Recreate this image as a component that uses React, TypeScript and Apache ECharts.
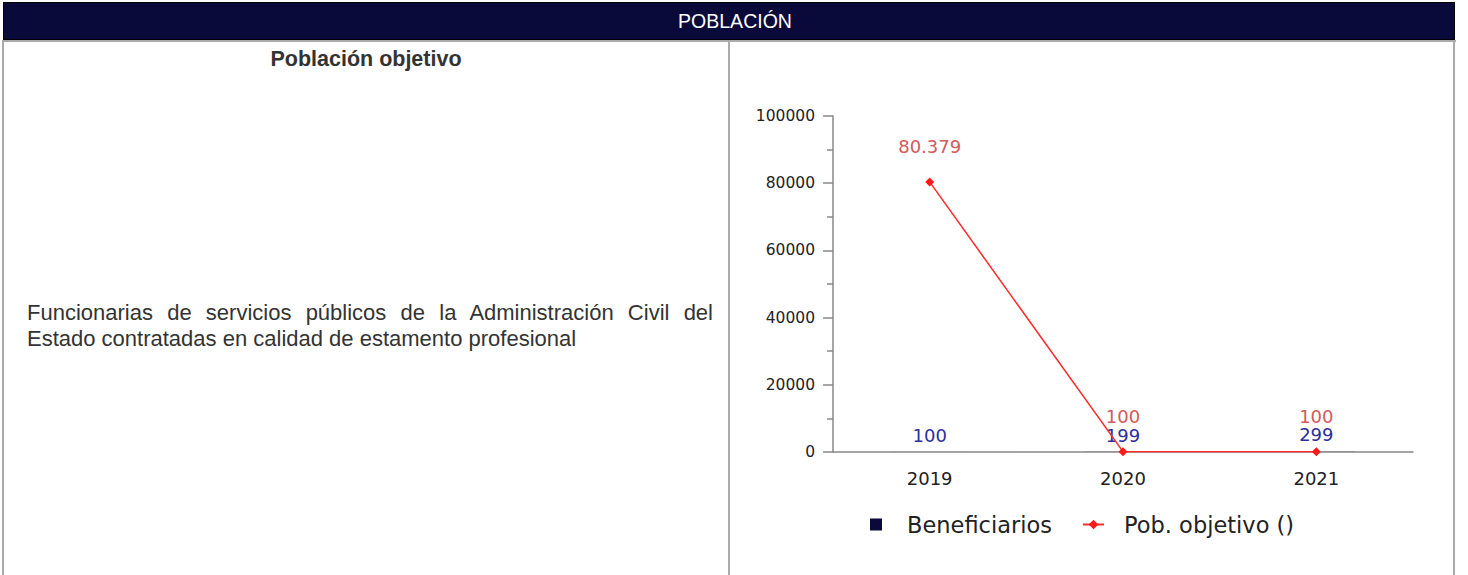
import React, { useEffect, useRef } from "react";
import * as echarts from "echarts";

const categories = ["2019", "2020", "2021"];
const beneficiarios = [100, 199, 299];
const poblacionObjetivo = [80379, 100, 100];
const yMin = 0;
const yMax = 100000;
const yInterval = 20000;
const seriesNames = ["Beneficiarios", "Pob. objetivo ()"];
const headerTitle = "POBLACIÓN";
const leftTitle = "Población objetivo";
const leftText =
  "Funcionarias de servicios públicos de la Administración Civil del Estado contratadas en calidad de estamento profesional";

const fmtEs = (v: number) =>
  String(Math.round(v)).replace(/\B(?=(\d{3})+(?!\d))/g, ".");

const FONT = "'DejaVu Sans', Verdana, sans-serif";

export default function App() {
  const ref = useRef<HTMLDivElement>(null);

  useEffect(() => {
    if (!ref.current) return;
    const chart = echarts.init(ref.current, undefined, { renderer: "svg" });
    chart.setOption({
      animation: false,
      grid: { left: 833, top: 116, width: 580, height: 336, containLabel: false },
      legend: [
        {
          data: [{ name: seriesNames[0], itemStyle: { color: "#0a0a3a", opacity: 1 } }],
          left: 870,
          top: 513,
          padding: 0,
          itemWidth: 12,
          itemHeight: 12,
          icon: "rect",
          textStyle: { fontFamily: FONT, fontSize: 22.5, color: "#222", padding: [0, 0, 0, 20] },
        },
        {
          data: [seriesNames[1]],
          left: 1082,
          top: 513,
          padding: 0,
          itemWidth: 21,
          itemHeight: 12,
          textStyle: { fontFamily: FONT, fontSize: 22.5, color: "#222", padding: [0, 0, 0, 15] },
        },
      ],
      xAxis: {
        type: "category",
        data: categories,
        boundaryGap: true,
        axisLine: { show: true, lineStyle: { color: "#888", width: 1.5 } },
        axisTick: { show: false },
        axisLabel: { fontFamily: FONT, fontSize: 18, color: "#222", margin: 17 },
        splitLine: { show: false },
      },
      yAxis: {
        type: "value",
        min: yMin,
        max: yMax,
        interval: yInterval,
        axisLine: { show: true, lineStyle: { color: "#888", width: 1.5 } },
        axisTick: { show: true, length: 10, lineStyle: { color: "#888", width: 1.5 } },
        minorTick: { show: true, splitNumber: 2, length: 6, lineStyle: { color: "#888", width: 1.5 } },
        axisLabel: {
          fontFamily: FONT,
          fontSize: 15.5,
          color: "#222",
          margin: 18,
          formatter: (v: number) => String(v),
        },
        splitLine: { show: false },
      },
      series: [
        {
          name: seriesNames[0],
          type: "bar",
          data: beneficiarios,
          barWidth: "40%",
          itemStyle: { color: "#0a0a3a", opacity: 0.12 },
          label: {
            show: true,
            position: "top",
            distance: 7,
            fontFamily: FONT,
            fontSize: 18,
            lineHeight: 18,
            color: "#2e2e9c",
            opacity: 1,
          },
          z: 2,
        },
        {
          name: seriesNames[1],
          type: "line",
          data: poblacionObjetivo,
          symbol: "diamond",
          symbolSize: 9,
          lineStyle: { color: "#ff2a2a", width: 1.5 },
          itemStyle: { color: "#ff1a1a" },
          label: {
            show: true,
            position: "top",
            distance: 22,
            fontFamily: FONT,
            fontSize: 18,
            lineHeight: 18,
            color: "#d25a5a",
            formatter: (p: any) => fmtEs(p.value),
          },
          z: 3,
        },
      ],
    });
    return () => chart.dispose();
  }, []);

  const grey = "#aaaaaa";
  return (
    <div
      style={{
        position: "fixed",
        left: 0,
        top: 0,
        width: 1468,
        height: 575,
        background: "#fff",
        overflow: "hidden",
      }}
    >
      <div
        style={{
          position: "absolute",
          left: 3,
          top: 2,
          width: 1450,
          height: 36,
          background: "#0a0a3a",
          border: "1px solid #000",
          color: "#fff",
          fontFamily: "'Liberation Sans', Arial, sans-serif",
          fontSize: 19.5,
          lineHeight: "36px",
          textAlign: "center",
          boxSizing: "content-box",
        }}
      >
        <span style={{ paddingLeft: 12 }}>{headerTitle}</span>
      </div>
      <div style={{ position: "absolute", left: 2, top: 40, width: 1454, height: 2, background: grey }} />
      <div style={{ position: "absolute", left: 2, top: 40, width: 2, height: 535, background: grey }} />
      <div style={{ position: "absolute", left: 728, top: 40, width: 2, height: 535, background: grey }} />
      <div style={{ position: "absolute", left: 1453, top: 40, width: 2, height: 535, background: grey }} />
      <div
        style={{
          position: "absolute",
          left: 4,
          width: 724,
          top: 45,
          textAlign: "center",
          fontFamily: "'Liberation Sans', Arial, sans-serif",
          fontWeight: "bold",
          fontSize: 21.5,
          lineHeight: "28px",
          color: "#333",
        }}
      >
        {leftTitle}
      </div>
      <div
        style={{
          position: "absolute",
          left: 27,
          width: 686,
          top: 300,
          textAlign: "justify",
          fontFamily: "'Liberation Sans', Arial, sans-serif",
          fontSize: 22,
          lineHeight: "26px",
          color: "#333",
        }}
      >
        {leftText}
      </div>
      <div ref={ref} style={{ position: "absolute", left: 0, top: 0, width: 1468, height: 575 }} />
    </div>
  );
}
